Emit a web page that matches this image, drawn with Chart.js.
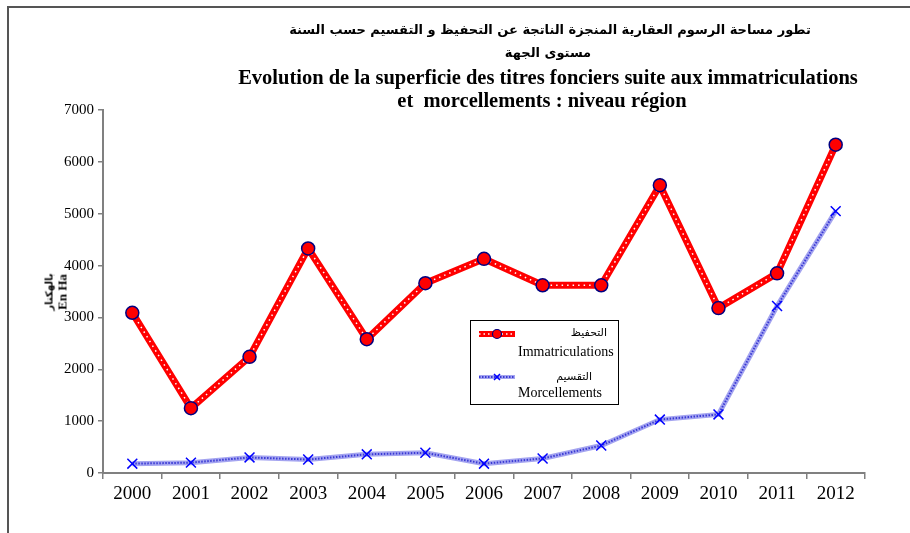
<!DOCTYPE html>
<html>
<head>
<meta charset="utf-8">
<script src="https://cdn.jsdelivr.net/npm/chart.js@4.4.0/dist/chart.umd.min.js"></script>
<style>
  body { margin: 0; background: #fff; }
  #wrap { position: relative; width: 910px; height: 533px; overflow: hidden; }
  #frame { position: absolute; left: 7px; top: 6px; width: 960px; height: 600px;
           border-top: 2px solid #555; border-left: 2px solid #555; }
  canvas { position: absolute; left: 0; top: 0; }
  .t { position: absolute; white-space: nowrap; transform: translateX(-50%); color: #000; font-weight: bold; }
  .ar { font-family: "DejaVu Sans", sans-serif; font-size: 13px; direction: rtl; }
  .fr { font-family: "Liberation Serif", serif; font-size: 20.5px; }
  #ytitle { position: absolute; left: 55px; top: 292px; transform: translate(-50%, -50%) rotate(-90deg);
            text-align: center; font-weight: bold; line-height: 12px; white-space: nowrap; }
</style>
</head>
<body>
<div id="wrap">
  <div id="frame"></div>
  <canvas id="grafico" width="910" height="533"></canvas>
  <div class="t ar" style="left:550px; top:22px;">تطور مساحة الرسوم العقارية المنجزة الناتجة عن التحفيظ و التقسيم حسب السنة</div>
  <div class="t ar" style="left:548px; top:45px;">مستوى الجهة</div>
  <div class="t fr" style="left:548px; top:66px;">Evolution de la superficie des titres fonciers suite aux immatriculations</div>
  <div class="t fr" style="left:542px; top:89px;">et&nbsp; morcellements : niveau région</div>
  <div id="ytitle"><span style="font-family:'DejaVu Sans'; font-size:10px;">بالهكتار</span><br><span style="font-family:'Liberation Serif'; font-size:13px;">En Ha</span></div>
</div>
<script>
// Datos del gráfico
const annees = ['2000', '2001', '2002', '2003', '2004', '2005', '2006', '2007', '2008', '2009', '2010', '2011', '2012'];
const immatriculations = [3090, 1250, 2240, 4330, 2580, 3660, 4130, 3620, 3620, 5550, 3180, 3850, 6330];
const morcellements = [180, 200, 300, 260, 360, 390, 180, 280, 530, 1030, 1130, 3220, 5050];
const ticksY = [0, 1000, 2000, 3000, 4000, 5000, 6000, 7000];

// Leyenda dibujada a mano (caja con texto árabe y francés)
const leyendaPlugin = {
    id: 'leyenda',
    afterDraw(chart) {
        const ctx = chart.ctx;
        ctx.save();
        ctx.strokeStyle = '#000';
        ctx.lineWidth = 1;
        ctx.strokeRect(470.5, 320.5, 148, 84);

        // Muestra Immatriculations
        ctx.lineWidth = 6;
        ctx.strokeStyle = '#ff0000';
        ctx.beginPath(); ctx.moveTo(479, 334); ctx.lineTo(515, 334); ctx.stroke();
        ctx.lineWidth = 1.5;
        ctx.strokeStyle = '#fff';
        ctx.setLineDash([1.5, 3]);
        ctx.beginPath(); ctx.moveTo(479, 334); ctx.lineTo(515, 334); ctx.stroke();
        ctx.setLineDash([]);
        ctx.fillStyle = '#ff0000';
        ctx.strokeStyle = '#000080';
        ctx.lineWidth = 1.2;
        ctx.beginPath(); ctx.arc(497, 334, 4.5, 0, Math.PI * 2); ctx.fill(); ctx.stroke();

        // Muestra Morcellements
        ctx.lineWidth = 4;
        ctx.strokeStyle = '#a4a4f0';
        ctx.beginPath(); ctx.moveTo(479, 377); ctx.lineTo(515, 377); ctx.stroke();
        ctx.lineWidth = 2;
        ctx.strokeStyle = '#3a3ad4';
        ctx.setLineDash([1.5, 1.5]);
        ctx.beginPath(); ctx.moveTo(479, 377); ctx.lineTo(515, 377); ctx.stroke();
        ctx.setLineDash([]);
        ctx.strokeStyle = '#0000ff';
        ctx.lineWidth = 1.5;
        ctx.beginPath();
        ctx.moveTo(494, 374); ctx.lineTo(500, 380);
        ctx.moveTo(500, 374); ctx.lineTo(494, 380);
        ctx.stroke();

        ctx.fillStyle = '#000';
        ctx.textBaseline = 'middle';
        ctx.font = '11px "DejaVu Sans"';
        ctx.textAlign = 'right';
        ctx.fillText('التحفيظ', 607, 333);
        ctx.fillText('التقسيم', 592, 377);
        ctx.font = '14px "Liberation Serif"';
        ctx.textAlign = 'left';
        ctx.fillText('Immatriculations', 518, 352);
        ctx.fillText('Morcellements', 518, 393);
        ctx.restore();
    }
};

// El primer dataset se dibuja encima
const ctxGrafico = document.getElementById('grafico').getContext('2d');
new Chart(ctxGrafico, {
    type: 'line',
    data: {
        labels: annees,
        datasets: [
            {
                label: 'Immatriculations',
                data: immatriculations,
                borderColor: '#ffffff',
                borderWidth: 1.5,
                borderDash: [1.5, 4],
                pointRadius: 6.5,
                pointBackgroundColor: '#ff0000',
                pointBorderColor: '#000080',
                pointBorderWidth: 1.5,
                tension: 0
            },
            {
                label: 'Immatriculations fond',
                data: immatriculations,
                borderColor: '#ff0000',
                borderWidth: 7,
                pointRadius: 0,
                tension: 0
            },
            {
                label: 'Morcellements',
                data: morcellements,
                borderColor: '#3a3ad4',
                borderWidth: 2,
                borderDash: [1.5, 1.5],
                pointStyle: 'crossRot',
                pointRadius: 7,
                pointBorderColor: '#0000ff',
                pointBorderWidth: 1.5,
                tension: 0
            },
            {
                label: 'Morcellements fond',
                data: morcellements,
                borderColor: '#a4a4f0',
                borderWidth: 5,
                pointRadius: 0,
                tension: 0
            }
        ]
    },
    options: {
        responsive: false,
        animation: false,
        layout: { padding: { left: 0, top: 110, right: 45, bottom: 0 } },
        plugins: {
            legend: { display: false },
            title: { display: false },
            tooltip: { enabled: false }
        },
        scales: {
            x: {
                offset: true,
                grid: { display: true, offset: true, drawOnChartArea: false, tickLength: 6, color: '#808080', lineWidth: 1.5 },
                border: { color: '#808080', width: 2 },
                ticks: { color: '#000', font: { family: 'Liberation Serif', size: 19 }, padding: 4, maxRotation: 0 },
                afterFit: (scale) => { scale.height = 60; }
            },
            y: {
                min: 0,
                max: 7000,
                afterBuildTicks: (scale) => { scale.ticks = ticksY.map(v => ({ value: v })); },
                grid: { display: true, drawOnChartArea: false, tickLength: 5, color: '#808080', lineWidth: 1.5 },
                border: { color: '#808080', width: 2 },
                ticks: { color: '#000', font: { family: 'Liberation Serif', size: 15 }, padding: 4,
                         callback: (value) => String(value) },
                afterFit: (scale) => { scale.width = 103; }
            }
        }
    },
    plugins: [leyendaPlugin]
});
</script>
</body>
</html>
